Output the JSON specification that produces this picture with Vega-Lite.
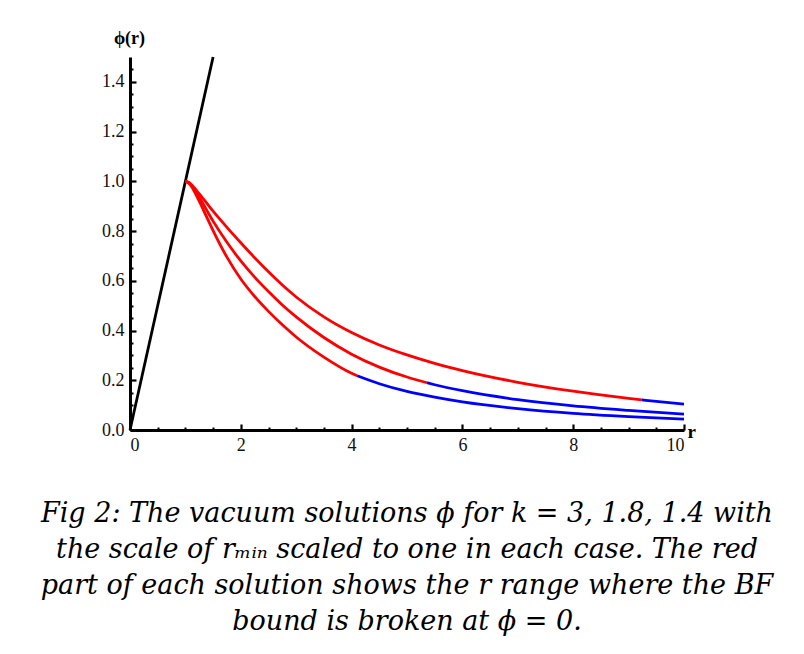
{
  "$schema": "https://vega.github.io/schema/vega-lite/v6.json",
  "width": 554,
  "height": 373,
  "autosize": {"type": "none"},
  "padding": {"left": 130, "top": 57, "right": 120, "bottom": 224},
  "background": "white",
  "config": {
    "view": {"stroke": null}
  },
  "title": {
    "text": ["Fig 2: The vacuum solutions ϕ for k = 3, 1.8, 1.4 with", "the scale of rₘᵢₙ scaled to one in each case. The red", "part of each solution shows the r range where the BF", "bound is broken at ϕ = 0."],
    "orient": "bottom",
    "anchor": "middle",
    "font": "DejaVu Serif",
    "fontStyle": "italic",
    "fontWeight": "normal",
    "fontSize": 27,
    "lineHeight": 36,
    "color": "black",
    "offset": 47
  },
  "resolve": {"axis": {"x": "independent", "y": "independent"}},
  "layer": [
    {
      "data": {"values": [{"r": 0, "phi": 0}, {"r": 1.5, "phi": 1.5}]},
      "mark": {"type": "line", "color": "black", "strokeWidth": 2.8},
      "encoding": {
        "x": {"field": "r", "type": "quantitative", "scale": {"domain": [0, 10], "nice": false},
          "axis": {"orient": "bottom", "grid": false, "values": [0, 2, 4, 6, 8, 10], "domainColor": "black", "domainWidth": 3, "tickColor": "black", "tickSize": -6, "tickWidth": 2.2, "labelPadding": 12, "labelFont": "Liberation Serif", "labelFontSize": 18, "labelColor": "#111", "title": "r", "titleFont": "Liberation Serif", "titleColor": "black", "titleFontSize": 19, "titleFontWeight": "bold", "titleAngle": 0, "titleX": 557, "titleY": 1, "titleAlign": "left", "titleBaseline": "middle"}},
        "y": {"field": "phi", "type": "quantitative", "scale": {"domain": [0, 1.5], "nice": false},
          "axis": {"orient": "left", "grid": false, "values": [0, 0.2, 0.4, 0.6, 0.8, 1.0, 1.2, 1.4], "format": ".1f", "domainColor": "black", "domainWidth": 3, "tickColor": "black", "tickSize": -6, "tickWidth": 2.2, "labelPadding": 12, "labelFont": "Liberation Serif", "labelFontSize": 18, "labelColor": "#111", "title": "ϕ(r)", "titleFont": "Liberation Serif", "titleColor": "black", "titleFontSize": 18, "titleFontWeight": "bold", "titleAngle": 0, "titleX": -1, "titleY": -10, "titleAlign": "center", "titleBaseline": "bottom"}}
      }
    },
    {
      "data": {"values": [
        {"k": "3", "part": "red", "r": 1.0, "phi": 1.0},
        {"k": "3", "part": "red", "r": 1.05, "phi": 0.997},
        {"k": "3", "part": "red", "r": 1.1, "phi": 0.989},
        {"k": "3", "part": "red", "r": 1.2, "phi": 0.964},
        {"k": "3", "part": "red", "r": 1.3, "phi": 0.936},
        {"k": "3", "part": "red", "r": 1.4, "phi": 0.908},
        {"k": "3", "part": "red", "r": 1.5, "phi": 0.88},
        {"k": "3", "part": "red", "r": 1.75, "phi": 0.815},
        {"k": "3", "part": "red", "r": 2.0, "phi": 0.753},
        {"k": "3", "part": "red", "r": 2.25, "phi": 0.693},
        {"k": "3", "part": "red", "r": 2.5, "phi": 0.636},
        {"k": "3", "part": "red", "r": 2.75, "phi": 0.583},
        {"k": "3", "part": "red", "r": 3.0, "phi": 0.535},
        {"k": "3", "part": "red", "r": 3.5, "phi": 0.455},
        {"k": "3", "part": "red", "r": 4.0, "phi": 0.392},
        {"k": "3", "part": "red", "r": 4.5, "phi": 0.342},
        {"k": "3", "part": "red", "r": 5.0, "phi": 0.302},
        {"k": "3", "part": "red", "r": 5.5, "phi": 0.268},
        {"k": "3", "part": "red", "r": 6.0, "phi": 0.239},
        {"k": "3", "part": "red", "r": 7.0, "phi": 0.192},
        {"k": "3", "part": "red", "r": 8.0, "phi": 0.156},
        {"k": "3", "part": "red", "r": 9.0, "phi": 0.127},
        {"k": "3", "part": "red", "r": 9.24, "phi": 0.121},
        {"k": "3", "part": "blue", "r": 9.24, "phi": 0.121},
        {"k": "3", "part": "blue", "r": 9.5, "phi": 0.115},
        {"k": "3", "part": "blue", "r": 10.0, "phi": 0.104},
        {"k": "1.8", "part": "red", "r": 1.0, "phi": 1.0},
        {"k": "1.8", "part": "red", "r": 1.05, "phi": 0.996},
        {"k": "1.8", "part": "red", "r": 1.1, "phi": 0.986},
        {"k": "1.8", "part": "red", "r": 1.2, "phi": 0.953},
        {"k": "1.8", "part": "red", "r": 1.3, "phi": 0.917},
        {"k": "1.8", "part": "red", "r": 1.4, "phi": 0.878},
        {"k": "1.8", "part": "red", "r": 1.5, "phi": 0.84},
        {"k": "1.8", "part": "red", "r": 1.75, "phi": 0.755},
        {"k": "1.8", "part": "red", "r": 2.0, "phi": 0.68},
        {"k": "1.8", "part": "red", "r": 2.25, "phi": 0.615},
        {"k": "1.8", "part": "red", "r": 2.5, "phi": 0.557},
        {"k": "1.8", "part": "red", "r": 2.75, "phi": 0.503},
        {"k": "1.8", "part": "red", "r": 3.0, "phi": 0.455},
        {"k": "1.8", "part": "red", "r": 3.5, "phi": 0.372},
        {"k": "1.8", "part": "red", "r": 4.0, "phi": 0.305},
        {"k": "1.8", "part": "red", "r": 4.5, "phi": 0.253},
        {"k": "1.8", "part": "red", "r": 5.0, "phi": 0.213},
        {"k": "1.8", "part": "red", "r": 5.36, "phi": 0.19},
        {"k": "1.8", "part": "blue", "r": 5.36, "phi": 0.19},
        {"k": "1.8", "part": "blue", "r": 5.5, "phi": 0.182},
        {"k": "1.8", "part": "blue", "r": 6.0, "phi": 0.158},
        {"k": "1.8", "part": "blue", "r": 7.0, "phi": 0.122},
        {"k": "1.8", "part": "blue", "r": 8.0, "phi": 0.097},
        {"k": "1.8", "part": "blue", "r": 9.0, "phi": 0.079},
        {"k": "1.8", "part": "blue", "r": 10.0, "phi": 0.064},
        {"k": "1.4", "part": "red", "r": 1.0, "phi": 1.0},
        {"k": "1.4", "part": "red", "r": 1.05, "phi": 0.995},
        {"k": "1.4", "part": "red", "r": 1.1, "phi": 0.983},
        {"k": "1.4", "part": "red", "r": 1.2, "phi": 0.943},
        {"k": "1.4", "part": "red", "r": 1.3, "phi": 0.897},
        {"k": "1.4", "part": "red", "r": 1.4, "phi": 0.849},
        {"k": "1.4", "part": "red", "r": 1.5, "phi": 0.802},
        {"k": "1.4", "part": "red", "r": 1.75, "phi": 0.695},
        {"k": "1.4", "part": "red", "r": 2.0, "phi": 0.607},
        {"k": "1.4", "part": "red", "r": 2.25, "phi": 0.537},
        {"k": "1.4", "part": "red", "r": 2.5, "phi": 0.477},
        {"k": "1.4", "part": "red", "r": 2.75, "phi": 0.423},
        {"k": "1.4", "part": "red", "r": 3.0, "phi": 0.374},
        {"k": "1.4", "part": "red", "r": 3.5, "phi": 0.293},
        {"k": "1.4", "part": "red", "r": 4.0, "phi": 0.228},
        {"k": "1.4", "part": "red", "r": 4.1, "phi": 0.218},
        {"k": "1.4", "part": "blue", "r": 4.1, "phi": 0.218},
        {"k": "1.4", "part": "blue", "r": 4.5, "phi": 0.186},
        {"k": "1.4", "part": "blue", "r": 5.0, "phi": 0.155},
        {"k": "1.4", "part": "blue", "r": 5.5, "phi": 0.132},
        {"k": "1.4", "part": "blue", "r": 6.0, "phi": 0.113},
        {"k": "1.4", "part": "blue", "r": 7.0, "phi": 0.086},
        {"k": "1.4", "part": "blue", "r": 8.0, "phi": 0.067},
        {"k": "1.4", "part": "blue", "r": 9.0, "phi": 0.054},
        {"k": "1.4", "part": "blue", "r": 10.0, "phi": 0.044}
      ]},
      "mark": {"type": "line", "strokeWidth": 2.8, "interpolate": "monotone"},
      "encoding": {
        "x": {"field": "r", "type": "quantitative", "scale": {"domain": [0, 10], "nice": false},
          "axis": {"orient": "bottom", "grid": false, "values": [0.5, 1, 1.5, 2.5, 3, 3.5, 4.5, 5, 5.5, 6.5, 7, 7.5, 8.5, 9, 9.5], "tickColor": "black", "tickSize": -3, "tickWidth": 2, "labels": false, "domain": false, "title": null}},
        "y": {"field": "phi", "type": "quantitative", "scale": {"domain": [0, 1.5], "nice": false},
          "axis": {"orient": "left", "grid": false, "values": [0.05, 0.1, 0.15, 0.25, 0.3, 0.35, 0.45, 0.5, 0.55, 0.65, 0.7, 0.75, 0.85, 0.9, 0.95, 1.05, 1.1, 1.15, 1.25, 1.3, 1.35, 1.45], "tickColor": "black", "tickSize": -3, "tickWidth": 2, "labels": false, "domain": false, "title": null}},
        "color": {"field": "part", "type": "nominal", "scale": {"domain": ["red", "blue"], "range": ["#ff0000", "#0000ff"]}, "legend": null},
        "detail": [{"field": "k"}, {"field": "part"}]
      }
    }
  ]
}
